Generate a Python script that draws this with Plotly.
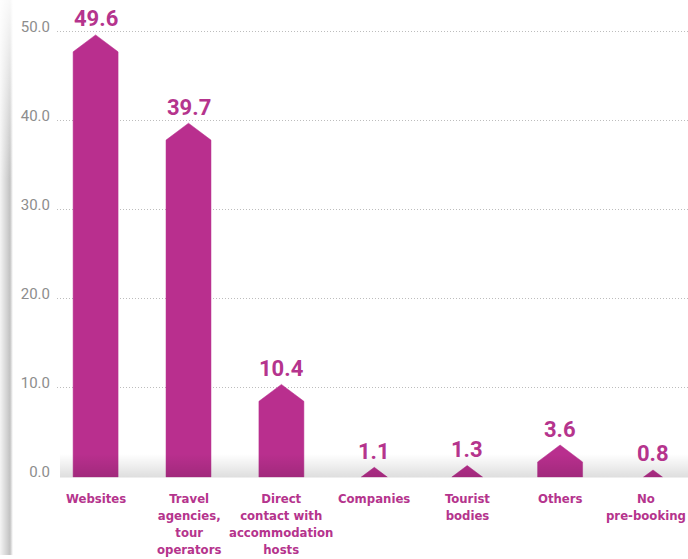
import plotly.graph_objects as go

# ---- data ----
categories = ["Websites", "Travel<br>agencies,<br>tour<br>operators",
              "Direct<br>contact with<br>accommodation<br>hosts",
              "Companies", "Tourist<br>bodies", "Others", "No<br>pre-booking"]
values = [49.6, 39.7, 10.4, 1.1, 1.3, 3.6, 0.8]
y_ticks = [0, 10, 20, 30, 40, 50]

# ---- style ----
BAR = "#b92f8e"
TXT = "#b5348d"
GRAY = "#8d8d8d"
W, H = 688, 559
PL, PB = 57, 78              # plot area left / bottom (px)
PX0, PXS = 95.6, 92.9        # pixel of category 0, pixel spacing
PY_UNIT = 8.98               # pixels per y unit
CAP_H = 1.9                  # cap height in y units
HALF_W = 0.242               # half bar width in category units

x_range = [(PL - PX0) / PXS, (W - PX0) / PXS]
y_range = [-0.05, (H - PB) / PY_UNIT - 0.05]

fig = go.Figure()

# bars with pointed caps
for i, v in enumerate(values):
    if v >= CAP_H:
        xs = [i - HALF_W, i - HALF_W, i, i + HALF_W, i + HALF_W, i - HALF_W]
        ys = [0, v - CAP_H, v, v - CAP_H, 0, 0]
    else:
        w = HALF_W * v / CAP_H
        xs = [i - w, i, i + w, i - w]
        ys = [0, v, 0, 0]
    fig.add_trace(go.Scatter(x=xs, y=ys, mode="lines", fill="toself",
                             fillcolor=BAR, line=dict(color=BAR, width=0.5),
                             hoverinfo="skip", showlegend=False,
                             xaxis="x", yaxis="y"))

# decorative shadows on a full-page pixel overlay (x2/y2)
def shade(xs, ys, kind, cs, start, stop):
    fig.add_trace(go.Scatter(x=xs, y=ys, mode="lines", fill="toself",
                             line=dict(width=0, color="rgba(0,0,0,0)"),
                             fillgradient=dict(type=kind, colorscale=cs,
                                               start=start, stop=stop),
                             hoverinfo="skip", showlegend=False,
                             xaxis="x2", yaxis="y2"))

# bottom shadow above baseline
shade([60, 688, 688, 60, 60], [454, 454, 481, 481, 454], "vertical",
      [[0, "rgba(0,0,0,0)"], [1, "rgba(0,0,0,0.15)"]], 454, 481)
# left page-edge shadow
shade([0, 10, 10, 0, 0], [0, 0, 559, 559, 0], "horizontal",
      [[0, "rgba(0,0,0,0.04)"], [1, "rgba(0,0,0,0.24)"]], 0, 10)
shade([10, 13, 13, 10, 10], [0, 0, 559, 559, 0], "horizontal",
      [[0, "rgba(0,0,0,0.24)"], [1, "rgba(0,0,0,0)"]], 10, 13)
shade([0, 14, 14, 0, 0], [0, 0, 180, 180, 0], "vertical",
      [[0, "rgba(255,255,255,0.9)"], [1, "rgba(255,255,255,0)"]], 0, 180)

# value labels
for i, v in enumerate(values):
    fig.add_annotation(x=i, y=v, xref="x", yref="y", text=f"{v:.1f}",
                       showarrow=False, yanchor="middle", yshift=16,
                       font=dict(family="Roboto", size=22, color=TXT, weight="bold"))

# category labels under the bars (last one kept inside the page edge)
for i, c in enumerate(categories):
    last = i == len(categories) - 1
    fig.add_annotation(x=1 if last else i, xref="paper" if last else "x",
                       xanchor="right" if last else "center",
                       y=493, yref="y2", yanchor="top", text=c,
                       showarrow=False, align="center",
                       font=dict(family="DejaVu Sans Condensed", size=13,
                                 color=TXT, weight="bold"))

fig.update_layout(
    width=W, height=H,
    margin=dict(l=0, r=0, t=0, b=0),
    paper_bgcolor="white", plot_bgcolor="rgba(0,0,0,0)",
    showlegend=False,
    xaxis=dict(domain=[PL / W, 1], range=x_range, visible=False, fixedrange=True),
    yaxis=dict(domain=[PB / H, 1], range=y_range, tickvals=y_ticks,
               ticktext=[f"{t:.1f}" for t in y_ticks],
               tickfont=dict(family="Roboto", size=15, color=GRAY),
               showgrid=True, gridcolor="#bdbdbd", griddash="1px,2px", gridwidth=1,
               zeroline=False, showline=False, ticks="", ticklabelstandoff=6,
               ticklabelshift=-5, fixedrange=True),
    xaxis2=dict(domain=[0, 1], range=[0, W], visible=False, anchor="y2", fixedrange=True),
    yaxis2=dict(domain=[0, 1], range=[H, 0], visible=False, anchor="x2", fixedrange=True),
)

fig.write_html("out.html")
